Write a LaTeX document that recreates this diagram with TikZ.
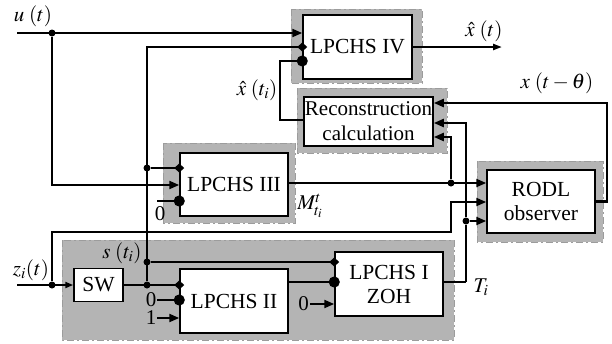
\documentclass[tikz,border=0pt]{standalone}
\usepackage{mathptmx}
\usepackage{fontspec}
\setmainfont{Liberation Serif}
\usetikzlibrary{arrows.meta,positioning,calc}
\definecolor{panelgray}{HTML}{B4B4B4}
\definecolor{edgegray}{HTML}{9C9C9C}
\tikzset{
    blk/.style={draw=black,fill=white,line width=1.5pt,inner sep=1pt,
      align=center,font=\fontsize{21.5}{24}\selectfont},
    panel/.style={fill=panelgray,draw=edgegray,line width=0.8pt,
      dash pattern=on 7pt off 3pt on 2pt off 3pt},
    sig/.style={line width=2.2pt},
    thinsig/.style={line width=1.3pt},
    jdot/.style={circle,fill=black,inner sep=0pt,minimum size=7pt},
    arrport/.style={-{Triangle[length=10pt,width=8pt]}},
    diaport/.style={-{Diamond[length=10pt,width=9pt]},shorten >=-5pt},
    dotport/.style={-{Circle[length=11pt]},shorten >=-5.5pt},
    lbl/.style={font=\fontsize{21}{24}\selectfont,inner sep=1pt}
}
\begin{document}
\begin{tikzpicture}[x=1pt,y=-1pt]
  \useasboundingbox (0,0) rectangle (612,343);
  % shaded frames
  \path[panel] (291,9) rectangle (422,83);
  \path[panel] (297,88) rectangle (447,153);
  \path[panel] (163,143) rectangle (295,223);
  \path[panel] (477,161) rectangle (603,242);
  \path[panel] (62,240) rectangle (454,340);

  % blocks
  \node[blk,minimum width=109pt,minimum height=64pt] (lpIV) at (357.5,47) {LPCHS IV};
  \node[blk,minimum width=129pt,minimum height=49pt,font=\fontsize{21}{25}\selectfont]
    (recon) at (368.5,121.5) {Reconstruction\\calculation};
  \node[blk,minimum width=108pt,minimum height=63pt] (lpIII) at (234,184.5) {LPCHS III};
  \node[blk,minimum width=108pt,minimum height=63pt] (rodl) at (541,201.5)
    {RODL\\observer};
  \node[blk,minimum width=49pt,minimum height=33pt] (sw) at (98.5,285) {SW};
  \node[blk,minimum width=108pt,minimum height=64pt] (lpII) at (234,301) {LPCHS II};
  \node[blk,minimum width=108pt,minimum height=64pt] (lpI) at (389,284) {LPCHS I\\ZOH};

  % junctions, bends and free ends
  \node[jdot] (ju) at (52,33) {};
  \node[jdot] (jz) at (52,285) {};
  \node[jdot] (jsw) at (147,285) {};
  \node[jdot] (js) at (147,262) {};
  \node[jdot] (jd3) at (147,168) {};
  \node[jdot] (jm) at (451,183) {};
  \node[jdot] (jT) at (466,221) {};
  \coordinate (uin) at (17,33);
  \coordinate (zin) at (17,285);
  \coordinate (xout) at (502,47);
  \coordinate (dtop) at (147,47);
  \coordinate (hbend) at (280,61);
  \coordinate (zbend) at (451,232);
  \coordinate (tbend) at (466,282);
  \coordinate (xr) at (607,103);

  % u(t)
  \draw[sig,arrport] (uin) -- (uin -| lpIV.west);
  \draw[sig,arrport] (ju) |- (lpIII.west |- 0,185);
  \draw[sig,-{Triangle[length=9pt,width=6pt]}] (lpIV.east) -- (xout);
  % switching signal
  \draw[sig,diaport] (jsw) -- (dtop) -- (dtop -| lpIV.west);
  \draw[sig,diaport] (jd3) -- (jd3 -| lpIII.west);
  \draw[sig,diaport] (js) -- (js -| lpI.west);
  % reconstruction back to LPCHS IV
  \draw[thinsig,dotport] (recon.west |- 0,120) -| (hbend) -- (hbend -| lpIV.west);
  % observer output
  \draw[sig,arrport] (rodl.east) -| (xr) -- (xr -| recon.east);
  % LPCHS III output
  \draw[sig,arrport] (lpIII.east |- jm) -- (jm -| rodl.west);
  \draw[sig,arrport] (jm) |- (recon.east |- 0,137);
  % z_i(t)
  \draw[sig,-{Triangle[length=8pt,width=6pt]}] (zin) -- (sw.west);
  \draw[sig,arrport] (jz) |- (zbend) |- (rodl.west |- 0,202);
  % T_i
  \draw[thinsig] (lpI.east |- tbend) -- (tbend);
  \draw[sig] (tbend) -- (jT);
  \draw[sig,arrport] (jT) |- (recon.east |- 0,123);
  \draw[sig,arrport] (jT) -- (jT -| rodl.west);
  % SW and LPCHS II
  \draw[thinsig,diaport] (sw.east) -- (sw.east -| lpII.west);
  \draw[sig,dotport] (lpII.east |- 0,282) -- (lpI.west |- 0,282);

  % constant inputs
  \coordinate (z3) at (157,201);
  \node[lbl] (c3) at (160,214) {0};
  \draw[sig,dotport] (z3) -- (z3 -| lpIII.west);
  \node[lbl] (c2) at (151,300) {0};
  \draw[sig,dotport] (c2) -- (c2 -| lpII.west);
  \node[lbl] (c1) at (151,318) {1};
  \draw[sig,arrport] (c1) -- (c1 -| lpII.west);
  \node[lbl] (c0) at (303.5,304) {0};
  \draw[sig,arrport] (c0) -- (c0 -| lpI.west);

  % signal labels
  \node[lbl] (lu) at (33,16) {$u\;(t)$};
  \node[lbl] (lxh) at (484,31) {$\hat{x}\;(t)$};
  \node[lbl] (lxi) at (257,90) {$\hat{x}\;(t_i)$};
  \node[lbl] (lxd) at (557,83) {$x\;(t-\theta)$};
  \node[lbl] (lM) at (310,206) {$M_{t_i}^{t}$};
  \node[lbl] (lz) at (31,270) {$z_i(t)$};
  \node[lbl] (ls) at (122,253) {$s\;(t_i)$};
  \node[lbl] (lT) at (481,287) {$T_i$};
\end{tikzpicture}
\end{document}
